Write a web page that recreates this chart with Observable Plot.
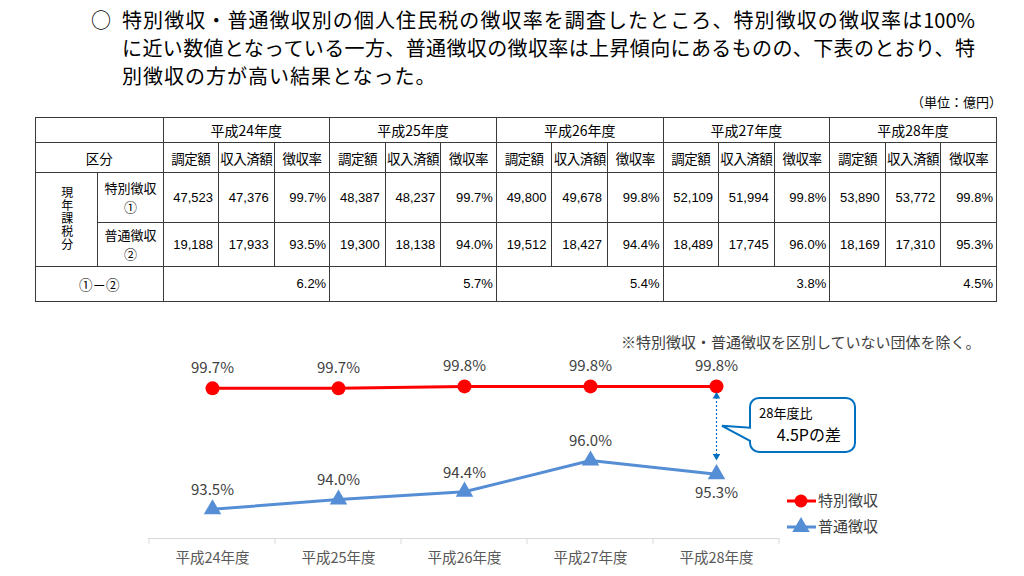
<!DOCTYPE html>
<html><head><meta charset="utf-8">
<script src="https://cdn.jsdelivr.net/npm/d3@7"></script>
<script src="https://cdn.jsdelivr.net/npm/@observablehq/plot@0.6"></script>
<style>
body{margin:0;width:1024px;height:576px;background:#fff;position:relative;overflow:hidden;font-family:"Noto Sans CJK JP",sans-serif;color:#000}
#bullet{position:absolute;left:91px;top:6px;font-size:20px;line-height:28px}
#intro{position:absolute;left:122px;top:6px;font-size:20px;line-height:28px}
#intro .j{width:853px;text-align:justify;text-align-last:justify;white-space:nowrap}
#intro .n{letter-spacing:1px}
#unit{position:absolute;right:22px;top:94px;font-size:13px;line-height:16px}
#tbl{position:absolute;left:35px;top:117px;border-collapse:collapse;table-layout:fixed;width:962px;font-family:"Liberation Sans","Noto Sans CJK JP",sans-serif;font-size:13px;border:1.5px solid #333}
#tbl td{border:1px solid #3a3a3a;padding:0;text-align:center;white-space:nowrap;overflow:hidden;line-height:16px}
#tbl td.jp{font-family:"Noto Sans CJK JP",sans-serif;font-size:13.5px}
#tbl td.two{line-height:18.5px;font-size:13px}
#tbl td.yr{font-family:"Noto Sans CJK JP",sans-serif;font-size:14px}
#tbl td.sub{font-family:"Noto Sans CJK JP",sans-serif;font-size:13.5px;letter-spacing:-0.5px}
#tbl td.num{text-align:right;padding-right:5px}
#tbl td.pc{text-align:right;padding-right:3px}
#tbl td.vert{font-family:"Noto Sans CJK JP",sans-serif;font-size:12px}
#tbl td.vert span{writing-mode:vertical-rl;text-orientation:upright;letter-spacing:1px;line-height:14px;display:inline-block}
#note{position:absolute;left:621px;top:332px;font-size:15px;line-height:20px;color:#404040}
#chart{position:absolute;left:0;top:330px}
#legend{position:absolute;left:780px;top:486px}
</style></head><body>
<div id="bullet">○</div>
<div id="intro">
<div class="j">特別徴収・普通徴収別の個人住民税の徴収率を調査したところ、特別徴収の徴収率は100%</div>
<div class="j">に近い数値となっている一方、普通徴収の徴収率は上昇傾向にあるものの、下表のとおり、特</div>
<div class="n">別徴収の方が高い結果となった。</div>
</div>
<div id="unit">（単位：億円）</div>
<table id="tbl"></table>
<div id="note">※特別徴収・普通徴収を区別していない団体を除く。</div>
<div id="chart"></div>
<svg id="legend" width="120" height="56"></svg>
<script>
// ---- data ----
const years = ["平成24年度","平成25年度","平成26年度","平成27年度","平成28年度"];
const subHeaders = ["調定額","収入済額","徴収率"];
const seriesNames = ["特別徴収","普通徴収"];
const rowMarks = ["①","②"];
const tokuAssessed  = [47523,48387,49800,52109,53890];
const tokuCollected = [47376,48237,49678,51994,53772];
const tokuRate      = [99.7,99.7,99.8,99.8,99.8];
const futsuAssessed  = [19188,19300,19512,18489,18169];
const futsuCollected = [17933,18138,18427,17745,17310];
const futsuRate      = [93.5,94.0,94.4,96.0,95.3];
const rateGap        = [6.2,5.7,5.4,3.8,4.5];
const yDomain = [92,100];
// ---- styles ----
const seriesColors = ["#FF0000","#558ED5"];
const calloutColor = "#0070C0";

const fmt = d3.format(",");
const pct = v => v.toFixed(1) + "%";

// ---- table ----
const colW = [62,65].concat(d3.range(15).map(()=>166/3));
let html = "<colgroup>" + colW.map(w=>`<col style="width:${w}px">`).join("") + "</colgroup>";
html += `<tr><td colspan="2" style="height:24px"></td>` + years.map(y=>`<td colspan="3" class="yr">${y}</td>`).join("") + "</tr>";
html += `<tr><td colspan="2" class="jp" style="height:29px">区分</td>` + years.map(()=>subHeaders.map(s=>`<td class="sub">${s}</td>`).join("")).join("") + "</tr>";
const rowsData = [[tokuAssessed,tokuCollected,tokuRate],[futsuAssessed,futsuCollected,futsuRate]];
rowsData.forEach((r,k)=>{
  html += "<tr>";
  if (k===0) html += `<td rowspan="2" class="vert"><span>現年課税分</span></td>`;
  html += `<td class="jp two" style="height:${k===0?49:43}px">${seriesNames[k]}<br>${rowMarks[k]}</td>`;
  html += years.map((_,i)=>`<td class="num">${fmt(r[0][i])}</td><td class="num">${fmt(r[1][i])}</td><td class="pc">${pct(r[2][i])}</td>`).join("");
  html += "</tr>";
});
html += `<tr><td colspan="2" class="jp" style="height:34px">${rowMarks[0]}－${rowMarks[1]}</td>` + rateGap.map(g=>`<td colspan="3" class="pc">${pct(g)}</td>`).join("") + "</tr>";
document.getElementById("tbl").innerHTML = html;

// ---- chart data ----
const rateRows = years.map((year,i)=>({year, series:seriesNames[0], rate:tokuRate[i]}))
  .concat(years.map((year,i)=>({year, series:seriesNames[1], rate:futsuRate[i]})));
const toku = rateRows.filter(d=>d.series===seriesNames[0]);
const futsu = rateRows.filter(d=>d.series===seriesNames[1]);
const lastIdx = years.length-1;
const lastYear = years[lastIdx];
const gapRow = [{year:lastYear, top:tokuRate[lastIdx], bottom:futsuRate[lastIdx], gap:rateGap[lastIdx]}];

function bw(sx){ return typeof sx.bandwidth === "function" ? sx.bandwidth() : (sx.bandwidth || 0); }

function bandTicks(index, scales){
  const sx = scales.x, sy = scales.y, b = bw(sx);
  const y0 = sy(yDomain[0]);
  const xs = years.map(y=>sx(y)).concat([sx(lastYear)+b]);
  const g = d3.create("svg:g");
  g.selectAll("line").data(xs).join("line")
    .attr("x1",d=>d).attr("x2",d=>d).attr("y1",y0).attr("y2",y0+6)
    .attr("stroke","#d9d9d9").attr("stroke-width",1);
  return g.node();
}

function callout(index, scales){
  const sx = scales.x, sy = scales.y, b = bw(sx);
  const d = gapRow[0];
  const cx = sx(d.year) + b/2;
  const yTop = sy(d.top), yBot = sy(d.bottom), yMid = (yTop+yBot)/2;
  const x0 = cx+34, x1 = x0+105, y0 = yTop+12, y1 = y0+54, r = 9;
  const tx = cx+6, ty = yMid-4, ny1 = yMid-2, ny2 = yMid+11;
  const p = `M${x0+r},${y0}H${x1-r}A${r},${r} 0 0 1 ${x1},${y0+r}V${y1-r}A${r},${r} 0 0 1 ${x1-r},${y1}H${x0+r}A${r},${r} 0 0 1 ${x0},${y1-r}V${ny2}L${tx},${ty}L${x0},${ny1}V${y0+r}A${r},${r} 0 0 1 ${x0+r},${y0}Z`;
  const g = d3.create("svg:g");
  g.append("path").attr("d",p).attr("fill","#fff").attr("stroke",calloutColor).attr("stroke-width",2);
  g.append("text").attr("x",x0+9).attr("y",yTop+32).attr("font-size",13).attr("text-anchor","start").attr("fill","#000")
    .text(d.year.replace("平成","") + "比");
  g.append("text").attr("x",x1-14).attr("y",yTop+55).attr("font-size",16).attr("text-anchor","end").attr("fill","#000")
    .text(`${d.gap}Pの差`);
  return g.node();
}

const chart = Plot.plot({
  width:1024, height:246,
  marginLeft:148, marginRight:245, marginTop:52, marginBottom:38,
  style:{fontFamily:"'Noto Sans CJK JP', sans-serif", background:"transparent", overflow:"visible"},
  x:{type:"band", domain:years, padding:0},
  y:{domain:yDomain, axis:null},
  marks:[
    Plot.ruleY([yDomain[0]], {stroke:"#d9d9d9", strokeWidth:1}),
    bandTicks,
    Plot.axisX({tickSize:0, tickPadding:14, fontSize:14.5, color:"#595959", label:null}),
    Plot.line(toku, {x:"year", y:"rate", stroke:seriesColors[0], strokeWidth:3}),
    Plot.dot(toku, {x:"year", y:"rate", r:7, fill:seriesColors[0], stroke:null}),
    Plot.line(futsu, {x:"year", y:"rate", stroke:seriesColors[1], strokeWidth:3}),
    Plot.dot(futsu, {x:"year", y:"rate", symbol:"triangle", r:6.5, fill:seriesColors[1], stroke:null}),
    Plot.text(toku, {x:"year", y:"rate", text:d=>pct(d.rate), dy:-20, fontSize:15, fill:"#404040"}),
    Plot.text(futsu.slice(0,lastIdx), {x:"year", y:"rate", text:d=>pct(d.rate), dy:-19, fontSize:15, fill:"#404040"}),
    Plot.text(futsu.slice(lastIdx), {x:"year", y:"rate", text:d=>pct(d.rate), dy:19, fontSize:15, fill:"#404040"}),
    Plot.ruleX(gapRow, {x:"year", y1:"top", y2:"bottom", stroke:calloutColor, strokeWidth:1.2, strokeDasharray:"2,2", insetTop:7, insetBottom:14}),
    Plot.dot(gapRow, {x:"year", y:"top", symbol:"triangle", r:2.8, dy:10, fill:calloutColor, stroke:null}),
    Plot.dot(gapRow, {x:"year", y:"bottom", symbol:"triangle", r:2.8, dy:-18, rotate:180, fill:calloutColor, stroke:null}),
    callout
  ]
});
document.getElementById("chart").appendChild(chart);

// ---- legend ----
const lg = d3.select("#legend");
seriesNames.forEach((name,i)=>{
  const g = lg.append("g").attr("transform",`translate(0,${15+i*26})`);
  g.append("line").attr("x1",7).attr("x2",36).attr("y1",0).attr("y2",0).attr("stroke",seriesColors[i]).attr("stroke-width",3);
  if (i===0) g.append("circle").attr("cx",21).attr("cy",0).attr("r",6.5).attr("fill",seriesColors[i]);
  else g.append("path").attr("d",d3.symbol(d3.symbolTriangle, Math.PI*6.5*6.5)()).attr("transform","translate(21,0)").attr("fill",seriesColors[i]);
  g.append("text").attr("x",38).attr("y",0).attr("dy","0.35em").attr("font-size",15).attr("fill","#404040")
    .attr("font-family","Noto Sans CJK JP").text(name);
});
</script>
</body></html>
